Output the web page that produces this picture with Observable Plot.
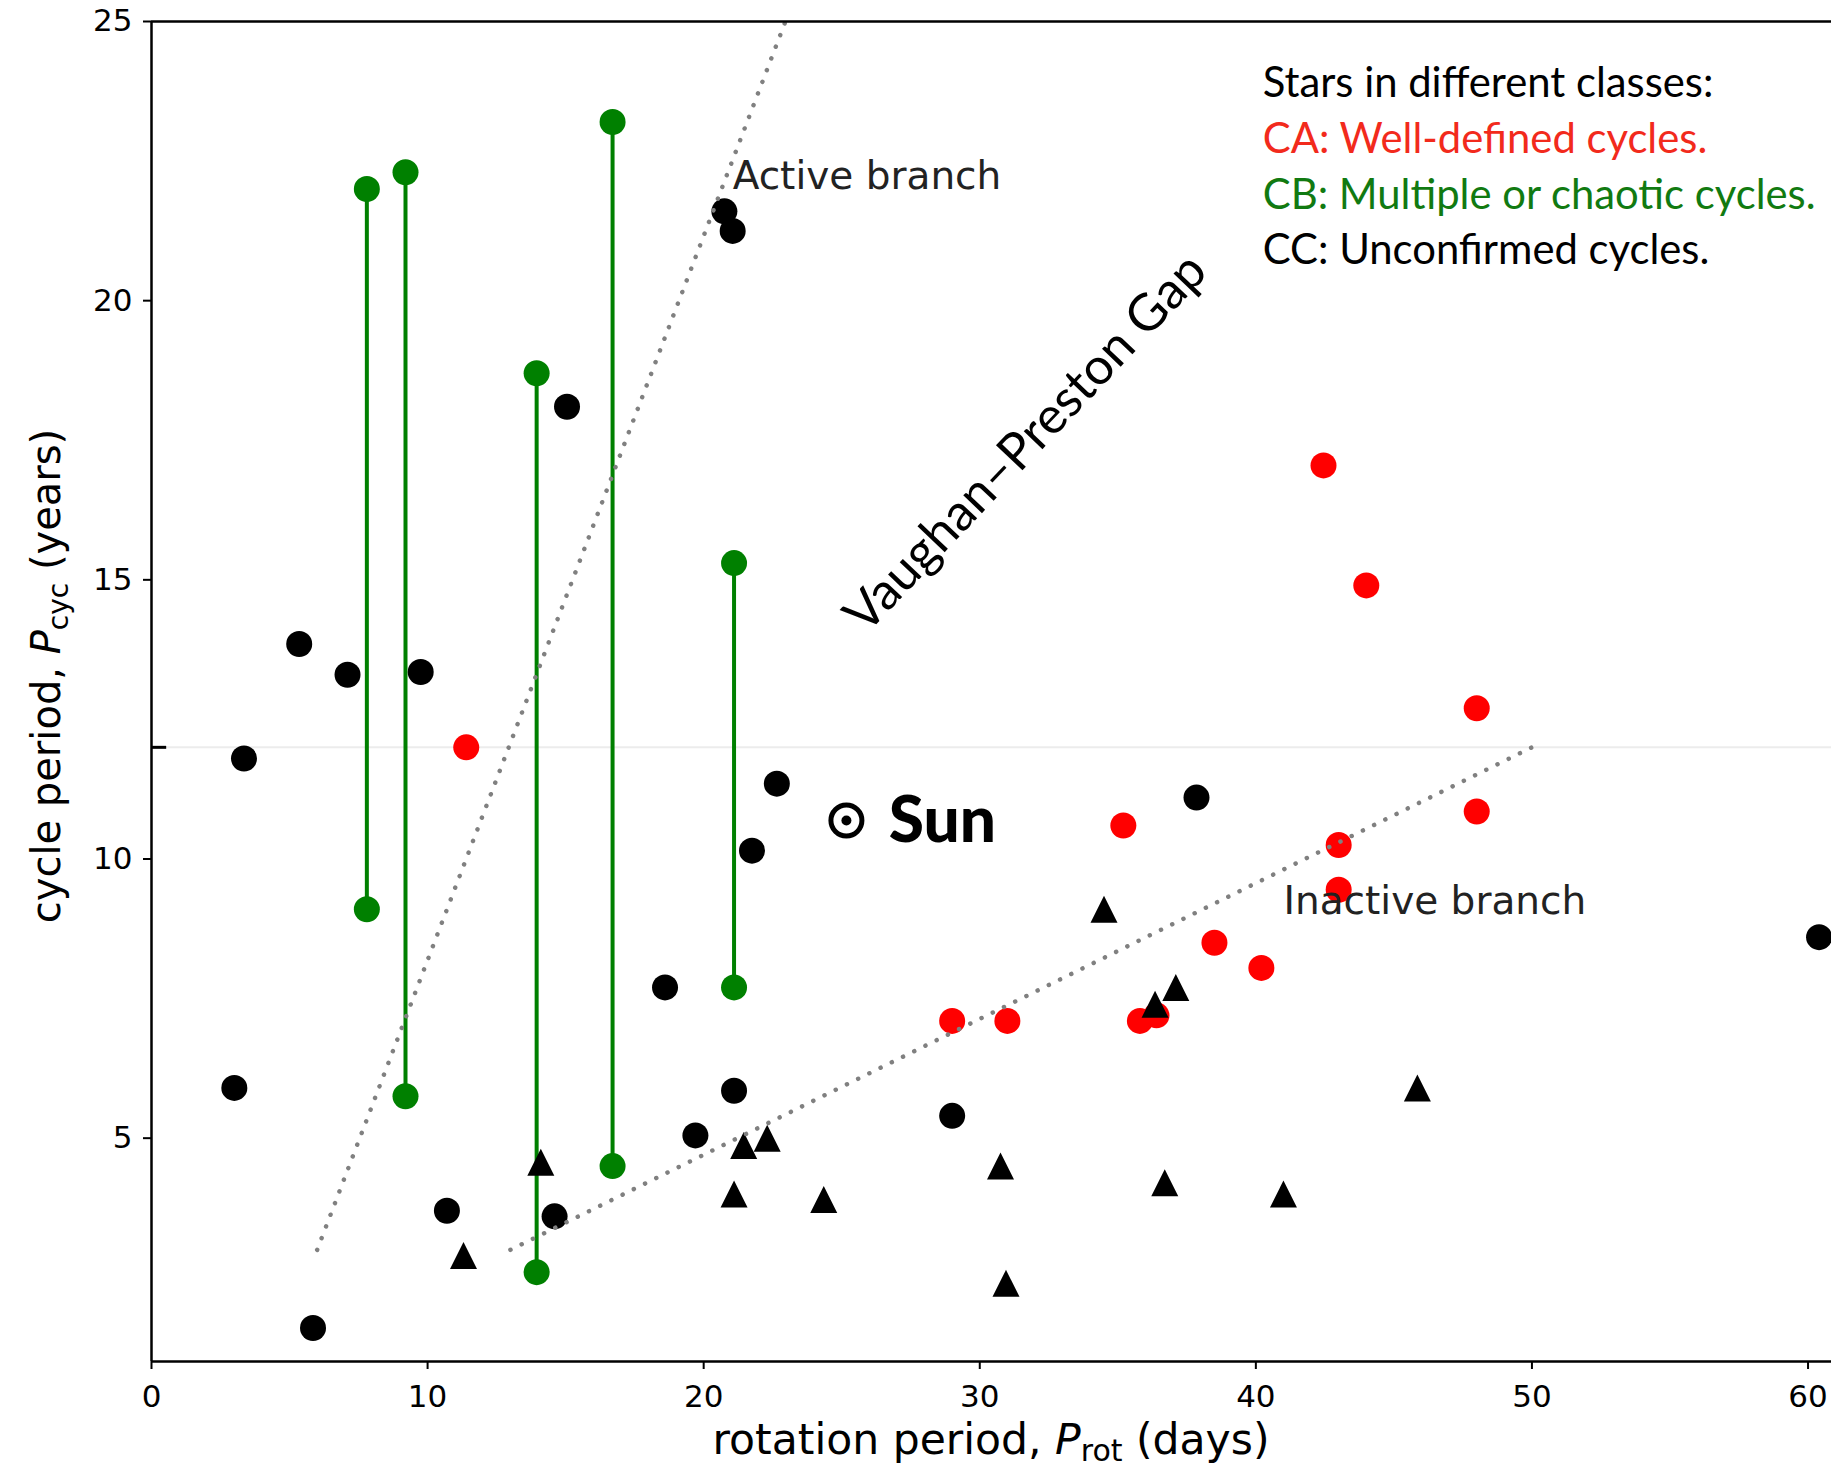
<!DOCTYPE html>
<html>
<head>
<meta charset="utf-8">
<script src="https://cdn.jsdelivr.net/npm/d3@7"></script>
<script src="https://cdn.jsdelivr.net/npm/@observablehq/plot@0.6"></script>
<style>
  html, body { margin: 0; padding: 0; background: #fff; }
  #chart svg { display: block; }
</style>
</head>
<body>
<div id="chart"></div>
<script>
// ---------- data ----------
// CA: well-defined cycles (red)
const caProt = [11.4, 42.45, 44.0, 48.0, 48.0, 35.2, 43.0, 43.0, 38.5, 40.2, 29.0, 31.0, 35.8, 36.4];
const caPcyc = [12.0, 17.05, 14.9, 12.7, 10.85, 10.6, 10.25, 9.45, 8.5, 8.05, 7.1, 7.1, 7.1, 7.2];

// CB: multiple or chaotic cycles (green, two cycles joined by a line)
const cbProt = [7.8, 9.2, 13.95, 16.7, 21.1];
const cbPcycHigh = [22.0, 22.3, 18.7, 23.2, 15.3];
const cbPcycLow = [9.1, 5.75, 2.6, 4.5, 7.7];

// CC: unconfirmed cycles, circles
const ccCircProt = [3.35, 5.35, 7.1, 9.75, 3.0, 5.85, 10.7, 14.6, 15.05, 20.75, 21.05, 18.6, 19.7, 21.1, 21.75, 22.65, 29.0, 37.85, 60.4];
const ccCircPcyc = [11.8, 13.85, 13.3, 13.35, 5.9, 1.6, 3.7, 3.6, 18.1, 21.6, 21.25, 7.7, 5.05, 5.85, 10.15, 11.35, 5.4, 11.1, 8.6];

// CC: unconfirmed cycles, triangles
const ccTriProt = [11.3, 14.1, 21.1, 21.45, 22.3, 24.35, 30.75, 30.95, 34.5, 36.35, 37.1, 36.7, 41.0, 45.85];
const ccTriPcyc = [2.9, 4.57, 4.0, 4.87, 5.0, 3.9, 4.5, 2.4, 9.1, 7.4, 7.7, 4.2, 4.0, 5.9];

// branches (dotted guide lines)
const activeProt = [6.0, 22.96];
const activePcyc = [3.0, 25.0];
const inactiveProt = [13.0, 50.0];
const inactivePcyc = [3.0, 12.0];

// the Sun
const sunProt = [25.17];
const sunPcyc = [10.69];

// axes
const xTicks = [0, 10, 20, 30, 40, 50, 60];
const yTicks = [5, 10, 15, 20, 25];
const xDomain = [0, 60.85];
const yDomain = [1, 25];

// legend
const legendLabels = [
  "Stars in different classes:",
  "CA: Well-defined cycles.",
  "CB: Multiple or chaotic cycles.",
  "CC: Unconfirmed cycles."
];
const legendClasses = ["title", "CA", "CB", "CC"];

// ---------- styles ----------
const RED = "#ff0000", GREEN = "#008000", GRAY = "#808080";
const textColors = {title: "#000000", CA: "#f22a1c", CB: "#117a11", CC: "#000000"};
const calibriLike = "Lato, 'Open Sans', sans-serif";

// matplotlib-like "^" marker (bbox centred)
const triUp = {
  draw(ctx, size) {
    const r = Math.sqrt(size / Math.PI);
    ctx.moveTo(0, -r);
    ctx.lineTo(r, r);
    ctx.lineTo(-r, r);
    ctx.closePath();
  }
};

// ---------- tables ----------
const zip = (xs, ys) => xs.map((x, i) => ({x, y: ys[i]}));
const caRows = zip(caProt, caPcyc);
const cbRows = cbProt.map((x, i) => ({x, lo: cbPcycLow[i], hi: cbPcycHigh[i]}));
const cbPts = cbRows.flatMap(d => [{x: d.x, y: d.hi}, {x: d.x, y: d.lo}]);
const ccCirc = zip(ccCircProt, ccCircPcyc);
const ccTri = zip(ccTriProt, ccTriPcyc);
const activeRows = zip(activeProt, activePcyc);
const inactiveRows = zip(inactiveProt, inactivePcyc);
const sunRows = zip(sunProt, sunPcyc);
const legendRows = legendLabels.map((t, i) => ({t, c: legendClasses[i], i}));

const W = 1831, H = 1468;

const plot = Plot.plot({
  width: W,
  height: H,
  marginLeft: 151,
  marginRight: 0,
  marginTop: 21,
  marginBottom: 107,
  x: {domain: xDomain},
  y: {domain: yDomain},
  style: {fontFamily: "'DejaVu Sans', sans-serif", background: "white", color: "black", overflow: "hidden"},
  marks: [
    // faint reference line at 12 yr
    Plot.ruleY([12], {stroke: "#ececec", strokeWidth: 2}),
    Plot.ruleY([12], {x1: 0, x2: 0.55, stroke: "black", strokeWidth: 3}),
    // CB
    Plot.ruleX(cbRows, {x: "x", y1: "lo", y2: "hi", stroke: GREEN, strokeWidth: 4}),
    Plot.dot(cbPts, {x: "x", y: "y", r: 13, fill: GREEN}),
    // CA
    Plot.dot(caRows, {x: "x", y: "y", r: 13, fill: RED}),
    // CC
    Plot.dot(ccCirc, {x: "x", y: "y", r: 13, fill: "black"}),
    Plot.dot(ccTri, {x: "x", y: "y", r: 13.5, symbol: triUp, fill: "black"}),
    // branches
    Plot.line(activeRows, {x: "x", y: "y", stroke: GRAY, strokeWidth: 4.5, strokeDasharray: "0.1,12.4", strokeLinecap: "round"}),
    Plot.line(inactiveRows, {x: "x", y: "y", stroke: GRAY, strokeWidth: 4.5, strokeDasharray: "0.1,12.4", strokeLinecap: "round"}),
    // Sun
    Plot.dot(sunRows, {x: "x", y: "y", r: 15.5, stroke: "black", strokeWidth: 5, fill: "none"}),
    Plot.dot(sunRows, {x: "x", y: "y", r: 5, fill: "black"}),
    Plot.text(["Sun"], {x: 26.7, y: 10.3, text: d => d, textAnchor: "start", lineAnchor: "bottom",
      fontFamily: calibriLike, fontWeight: 900, fontSize: 64, fill: "black"}),
    // annotations
    Plot.text(["Active branch"], {x: 21.05, y: 22.0, text: d => d, textAnchor: "start", lineAnchor: "bottom",
      fontSize: 39, fill: "#222"}),
    Plot.text(["Inactive branch"], {x: 41.0, y: 9.02, text: d => d, textAnchor: "start", lineAnchor: "bottom",
      fontSize: 39, fill: "#222"}),
    Plot.text(["Vaughan\u2013Preston Gap"], {x: 31.67, y: 17.45, text: d => d, textAnchor: "middle", lineAnchor: "middle",
      rotate: -46.5, fontFamily: calibriLike, fontSize: 51, fill: "black"}),
    // legend
    Plot.text(legendRows, {x: 40.25, y: d => 23.65 - d.i, text: "t", textAnchor: "start", lineAnchor: "bottom",
      fontFamily: calibriLike, fontSize: 41.8, fill: d => textColors[d.c]}),
    // frame
    Plot.ruleX([0], {stroke: "black", strokeWidth: 2.5}),
    Plot.ruleY([1], {stroke: "black", strokeWidth: 2.5}),
    Plot.ruleY([25], {stroke: "black", strokeWidth: 2.5}),
    // axes
    Plot.axisX({ticks: xTicks, tickSize: 8, tickPadding: 15, fontSize: 31, strokeWidth: 2, label: null, tickFormat: d3.format("d")}),
    Plot.axisY({ticks: yTicks, tickSize: 8, tickPadding: 11, fontSize: 31, strokeWidth: 2, label: null, tickFormat: d3.format("d")})
  ]
});

document.getElementById("chart").appendChild(plot);

// axis titles with math-style subscripts
const sx = plot.scale("x"), sy = plot.scale("y");
const svg = d3.select(plot);
const xMid = (sx.apply(xDomain[0]) + sx.apply(xDomain[1])) / 2;
const yMid = (sy.apply(yDomain[0]) + sy.apply(yDomain[1])) / 2;

function axisTitle(sel, before, sym, sub, after, subSize, shift) {
  sel.append("tspan").text(before);
  sel.append("tspan").attr("font-style", "italic").text(sym);
  sel.append("tspan").attr("font-size", subSize).attr("dy", shift).text(sub);
  sel.append("tspan").attr("dy", -shift).text(after);
}

const xt = svg.append("text")
  .attr("x", xMid).attr("y", 1454)
  .attr("text-anchor", "middle")
  .attr("font-family", "'DejaVu Sans', sans-serif")
  .attr("font-size", 42.5).attr("fill", "black");
axisTitle(xt, "rotation period, ", "P", "rot", " (days)", 30, 7);

const yt = svg.append("text")
  .attr("transform", `translate(60,${yMid - 15}) rotate(-90)`)
  .attr("text-anchor", "middle")
  .attr("font-family", "'DejaVu Sans', sans-serif")
  .attr("font-size", 40).attr("fill", "black");
axisTitle(yt, "cycle period, ", "P", "cyc", " (years)", 28, 8);
</script>
</body>
</html>
